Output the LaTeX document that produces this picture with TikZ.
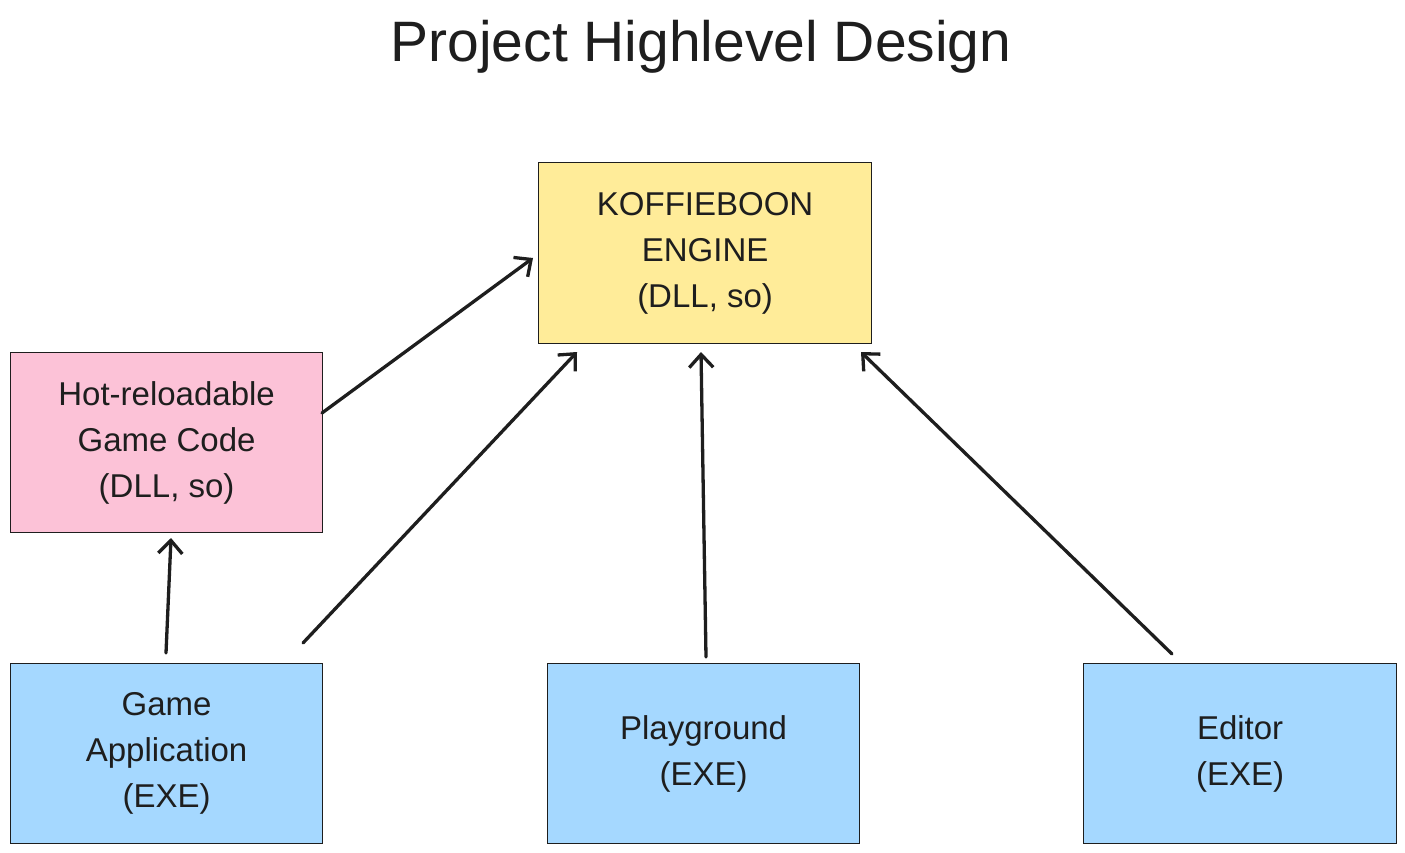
\documentclass[tikz,border=0pt]{standalone}
\usepackage{fontspec}
\setmainfont{Liberation Sans}
\usetikzlibrary{arrows.meta}
\definecolor{ink}{HTML}{1E1E1E}
\definecolor{yel}{HTML}{FFEC99}
\definecolor{pnk}{HTML}{FCC2D7}
\definecolor{blu}{HTML}{A5D8FF}
\tikzset{
  box/.style={draw=ink, line width=1.2pt, align=center, text=ink,
    font=\fontsize{33}{46}\selectfont, inner sep=0pt, anchor=north west},
  conn/.style={draw=ink, line width=3.3pt, line cap=round,
    -{Straight Barb[length=13pt,width=24pt,line width=3.3pt]}},
}
\begin{document}
\begin{tikzpicture}[x=1pt,y=-1pt]
\useasboundingbox (0,0) rectangle (1405,853);
\node[text=ink, font=\fontsize{57}{64}\selectfont] (title) at (701,47) {Project Highlevel Design};
\node[box, fill=yel, minimum width=333pt, minimum height=181pt] (eng) at (538,162) {KOFFIEBOON\\ENGINE\\(DLL, so)};
\node[box, fill=pnk, minimum width=312pt, minimum height=180pt] (hot) at (10,352) {Hot-reloadable\\Game Code\\(DLL, so)};
\node[box, fill=blu, minimum width=312pt, minimum height=180pt] (app) at (10,663) {Game\\Application\\(EXE)};
\node[box, fill=blu, minimum width=312pt, minimum height=180pt] (play) at (547,663) {Playground\\(EXE)};
\node[box, fill=blu, minimum width=313pt, minimum height=180pt] (edit) at (1083,663) {Editor\\(EXE)};
\coordinate (h1) at (322,413);
\coordinate (h2) at (533,258);
\coordinate (a1) at (303,643);
\coordinate (a2) at (577,352);
\coordinate (p1) at (706,657);
\coordinate (p2) at (701,352);
\coordinate (e1) at (1172,654);
\coordinate (e2) at (861,352);
\coordinate (g1) at (166,653);
\coordinate (g2) at (171,538);
\draw[conn] (h1) -- (h2);
\draw[conn] (a1) -- (a2);
\draw[conn] (p1) -- (p2);
\draw[conn] (e1) -- (e2);
\draw[conn] (g1) -- (g2);
\end{tikzpicture}
\end{document}
